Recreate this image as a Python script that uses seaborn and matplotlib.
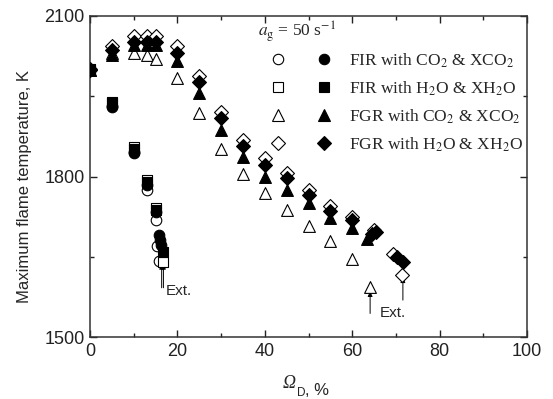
import numpy as np
import pandas as pd
import matplotlib
matplotlib.use('Agg')
import matplotlib.pyplot as plt
import seaborn as sns
from matplotlib.lines import Line2D
from matplotlib.legend_handler import HandlerTuple
from matplotlib.ticker import MultipleLocator

# ---------------- data ----------------
fir_co2_x = [0, 5, 10, 13, 15, 15.8, 16.0, 16.2]
fir_co2_T = [2000, 1930, 1843, 1784, 1734, 1691, 1681, 1672]
fir_xco2_x = [0, 5, 10, 13, 15, 15.4, 15.8]
fir_xco2_T = [2000, 1932, 1845, 1775, 1718, 1670, 1642]
fir_h2o_x = [0, 5, 10, 13, 15, 16.8]
fir_h2o_T = [2000, 1937, 1851, 1789, 1738, 1659]
fir_xh2o_x = [0, 5, 10, 13, 15, 16.8]
fir_xh2o_T = [2001, 1940, 1855, 1794, 1742, 1641]

fgr_co2_x = [0, 5, 10, 13, 15, 20, 25, 30, 35, 40, 45, 50, 55, 60, 63.5]
fgr_co2_T = [2000, 2027, 2046, 2046, 2046, 2015, 1956, 1886, 1837, 1800, 1775, 1750, 1722, 1703, 1683]
fgr_xco2_x = [0, 5, 10, 13, 15, 20, 25, 30, 35, 40, 45, 50, 55, 60, 64]
fgr_xco2_T = [2000, 2030, 2031, 2027, 2019, 1984, 1918, 1851, 1805, 1769, 1737, 1707, 1679, 1645, 1593]
fgr_h2o_x = [0, 5, 10, 13, 15, 20, 25, 30, 35, 40, 45, 50, 55, 60, 64.5, 65.5, 70.2, 71.7]
fgr_h2o_T = [2000, 2036, 2052, 2051, 2051, 2030, 1977, 1909, 1857, 1821, 1797, 1765, 1736, 1719, 1692, 1697, 1650, 1641]
fgr_xh2o_x = [0, 5, 10, 13, 15, 20, 25, 30, 35, 40, 45, 50, 55, 60, 65, 69.4, 71.5]
fgr_xh2o_T = [2001, 2043, 2063, 2063, 2063, 2043, 1987, 1921, 1868, 1834, 1806, 1775, 1745, 1725, 1700, 1656, 1616]

legend_labels = [r'FIR with CO$_2$ & XCO$_2$', r'FIR with H$_2$O & XH$_2$O',
                 r'FGR with CO$_2$ & XCO$_2$', r'FGR with H$_2$O & XH$_2$O']

# extinction arrows: x, tail T, head T
ext_arrow_x = [16.4, 16.8, 64.1, 71.6]
ext_arrow_tail = [1592, 1592, 1544, 1569]
ext_arrow_head = [1636, 1636, 1585, 1611]
ext_text_x = [17.3, 66.3]
ext_text_T = [1586, 1545]

x_ticks = [0, 20, 40, 60, 80, 100]
y_ticks = [1500, 1800, 2100]

# ---------------- style ----------------
sns.set_style('ticks')
plt.rcParams['font.family'] = ['Liberation Sans', 'DejaVu Sans']
plt.rcParams['mathtext.fontset'] = 'stix'

fig = plt.figure(figsize=(5.53, 3.99), dpi=100)
ax = fig.add_axes([90 / 553, 1 - 337 / 399, 437 / 553, 321 / 399])

series = [
    (fir_xco2_x, fir_xco2_T, 'o', 'white', 58),
    (fir_xh2o_x, fir_xh2o_T, 's', 'white', 50),
    (fgr_xco2_x, fgr_xco2_T, '^', 'white', 72),
    (fgr_xh2o_x, fgr_xh2o_T, 'D', 'white', 50),
    (fir_co2_x, fir_co2_T, 'o', 'black', 58),
    (fir_h2o_x, fir_h2o_T, 's', 'black', 50),
    (fgr_co2_x, fgr_co2_T, '^', 'black', 72),
    (fgr_h2o_x, fgr_h2o_T, 'D', 'black', 50),
]
for i, (xs, ts, mk, fc, sz) in enumerate(series):
    df = pd.DataFrame({'x': xs, 'T': ts})
    sns.scatterplot(data=df, x='x', y='T', marker=mk, s=sz, color=fc,
                    edgecolor='black', linewidth=0.8, ax=ax, zorder=3 + i,
                    legend=False)

ax.set_xlim(0, 100)
ax.set_ylim(1500, 2100)
ax.set_xticks(x_ticks)
ax.set_yticks(y_ticks)
ax.xaxis.set_minor_locator(MultipleLocator(10))
ax.yaxis.set_minor_locator(MultipleLocator(150))
ax.tick_params(which='both', direction='in', top=True, right=True,
               labelsize=13, colors='#222222', width=1.0)
ax.tick_params(which='major', length=5, pad=4)
ax.tick_params(which='minor', length=3)
for sp in ax.spines.values():
    sp.set_linewidth(1.1)
    sp.set_color('#333333')

# x label: italic serif Omega, sans subscript D, then ", %"
ax.set_xlabel('')
t1 = fig.text(283 / 553, 1 - 388 / 399, 'Ω', fontsize=13, fontstyle='italic',
              family='Liberation Serif', ha='left', va='baseline')
t2 = ax.annotate('D', xy=(1, 0), xycoords=t1, xytext=(0.5, -3),
                 textcoords='offset points', fontsize=8.5, ha='left', va='baseline')
t3 = ax.annotate(', %', xy=(1, 0), xycoords=t2, xytext=(0, 3),
                 textcoords='offset points', fontsize=12, ha='left', va='baseline')

ax.set_ylabel('Maximum flame temperature, K', fontsize=12)
ax.yaxis.set_label_coords(-0.132, 0.47)

# extinction arrows and labels
for xa, t0, t1_ in zip(ext_arrow_x, ext_arrow_tail, ext_arrow_head):
    ax.annotate('', xy=(xa, t1_), xytext=(xa, t0),
                arrowprops=dict(arrowstyle='-|>', color='black', lw=0.7,
                                mutation_scale=7, shrinkA=0, shrinkB=0))
for xt, tt in zip(ext_text_x, ext_text_T):
    ax.text(xt, tt, 'Ext.', fontsize=11, ha='left', va='center')

# legend: open & filled marker pairs
def mk(m, fc, ms):
    return Line2D([], [], marker=m, ls='none', mfc=fc, mec='black', ms=ms, mew=0.8)

handles = [(mk('o', 'white', 7.5), mk('o', 'black', 7.5)),
           (mk('s', 'white', 7), mk('s', 'black', 7)),
           (mk('^', 'white', 8.5), mk('^', 'black', 8.5)),
           (mk('D', 'white', 7), mk('D', 'black', 7))]
leg = ax.legend(handles, legend_labels, loc='upper left',
                bbox_to_anchor=(0.405, 0.912), borderaxespad=0,
                frameon=False, handlelength=3.15, handletextpad=1.15,
                labelspacing=0.56,
                prop={'family': 'Liberation Serif', 'size': 12.5},
                handler_map={tuple: HandlerTuple(ndivide=None, pad=2.2)})

ax.text(0.384, 0.952, r'$a_{\mathrm{g}}$ = 50 s$^{-1}$', transform=ax.transAxes,
        fontsize=12.5, family='Liberation Serif', ha='left', va='center')

fig.savefig('out.png', dpi=100)
